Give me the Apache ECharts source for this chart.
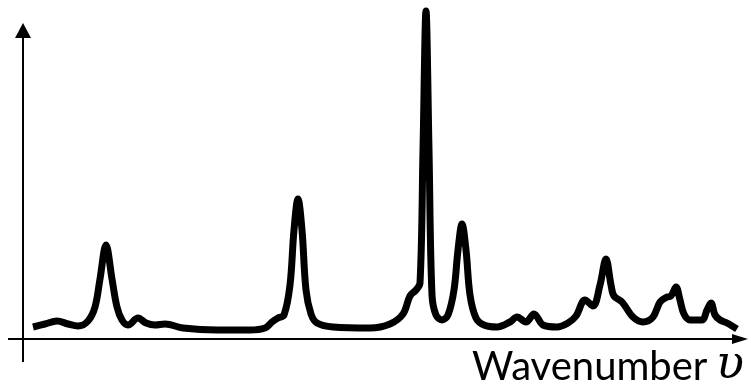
<!DOCTYPE html>
<html>
<head>
<meta charset="utf-8">
<script src="https://cdn.jsdelivr.net/npm/echarts@6/dist/echarts.min.js"></script>
<style>
html,body{margin:0;padding:0;background:#fff;}
#chart{width:751px;height:390px;}
</style>
</head>
<body>
<div id="chart"></div>
<script>
// Spectrum (x: arbitrary wavenumber units, y: intensity units)
const wavenumber = [10,22,34,45,55,65,72,77,83,89,94,99,105,115,123,132,142,160,194,227,242,249,255,261,267,271,275,279,283,288,294,310,347,367,380,387,393,397,400,403,406,409,413,419,425,431,435,439,443,447,453,461,474,487,494,503,511,520,534,545,553,562,570,577,583,588,591,599,610,620,630,637,644,648,653,657,661,667,679,684,688,692,697,704,714];
const intensity  = [12,15,18,15,13,18,32,60,94,60,32,19,14,21,16,14,15,11,9,9,11,17,21,24,54,109,140,109,49,25,16,12,11,15,25,43,49,56,189,328,189,44,24,19,24,49,89,115,89,44,21,14,12,17,22,17,25,14,12,16,23,39,33,54,80,54,43,37,22,17,22,37,42,43,52,39,25,19,19,29,36,24,19,16,10];
const xLabel = "Wavenumber";
const xSymbol = "υ";

const chart = echarts.init(document.getElementById('chart'), null, {renderer:'canvas'});
chart.setOption({
  animation:false,
  backgroundColor:'#fff',
  grid:{left:23,right:3,top:0,bottom:51,containLabel:false},
  xAxis:{type:'value',min:0,max:725,show:false},
  yAxis:{type:'value',min:0,max:339,show:false},
  series:[{
    type:'line',
    data: wavenumber.map((x,i)=>[x,intensity[i]]),
    smooth:0.35,
    showSymbol:false,
    symbol:'none',
    lineStyle:{color:'#000',width:7,cap:'butt',join:'round'}
  }],
  graphic:[
    {type:'line',shape:{x1:23,y1:362,x2:23,y2:37},style:{stroke:'#000',lineWidth:2}},
    {type:'polygon',shape:{points:[[23,23],[15,38],[31,38]]},style:{fill:'#000'}},
    {type:'line',shape:{x1:8,y1:339,x2:733,y2:339},style:{stroke:'#000',lineWidth:2}},
    {type:'polygon',shape:{points:[[748,339],[732,334],[732,344]]},style:{fill:'#000'}},
    {type:'text',x:472,y:387,style:{
      text:xLabel, verticalAlign:'bottom', align:'left',
      fontFamily:'Lato', fontSize:40, fill:'#000'
    }},
    {type:'text',x:730,y:389,style:{
      text:xSymbol, verticalAlign:'bottom', align:'center',
      fontFamily:'DejaVu Serif', fontStyle:'italic', fontSize:46, fill:'#000'
    }}
  ]
});
</script>
</body>
</html>
